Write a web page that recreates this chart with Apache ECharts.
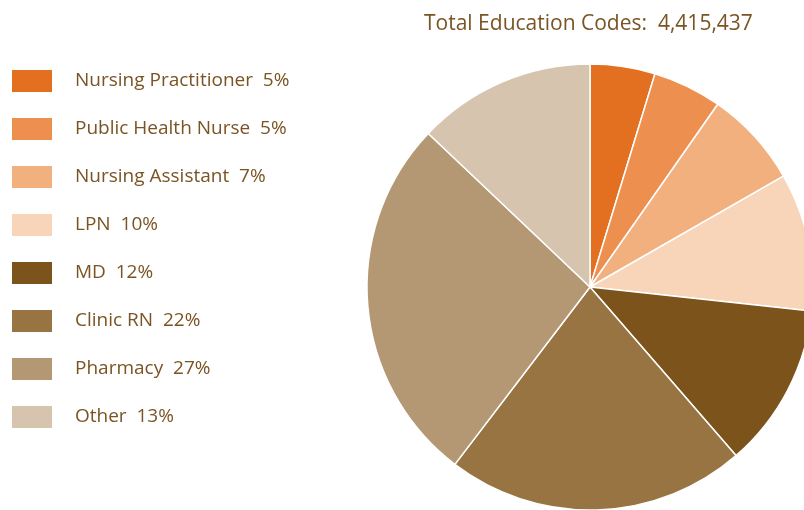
<!DOCTYPE html>
<html>
<head>
<meta charset="utf-8">
<script src="https://cdn.jsdelivr.net/npm/echarts@6/dist/echarts.min.js"></script>
<style>
  html, body { margin: 0; padding: 0; background: #fff; }
  #main { width: 804px; height: 510px; }
</style>
</head>
<body>
<div id="main"></div>
<script>
// categories and the percentages printed in the legend
var categories = ['Nursing Practitioner', 'Public Health Nurse', 'Nursing Assistant', 'LPN', 'MD', 'Clinic RN', 'Pharmacy', 'Other'];
var labelPercents = [5, 5, 7, 10, 12, 22, 27, 13];
// slice shares as measured from the slice angles
var shares = [4.7, 5.0, 7.0, 10.0, 11.9, 21.7, 26.7, 12.9];
var colors = ['#E37020', '#EC8F4F', '#F2B07F', '#F8D5B8', '#7C531A', '#987442', '#B49873', '#D7C4AF'];
var totalCodes = '4,415,437';

var textColor = '#7A5424';
var fontName = 'Open Sans';

var myChart = echarts.init(document.getElementById('main'));
var option = {
    animation: false,
    color: colors,
    title: {
        text: 'Total Education Codes:  ' + totalCodes,
        left: 424,
        top: 14,
        padding: 0,
        textStyle: {
            color: textColor,
            fontFamily: fontName,
            fontWeight: 'normal',
            fontSize: 21
        }
    },
    // legend on the left
    legend: {
        orient: 'vertical',
        left: 10,
        top: 68,
        padding: 0,
        itemWidth: 42,
        itemHeight: 24,
        itemGap: 22,
        icon: 'rect',
        data: categories,
        formatter: function (name) {
            var i = categories.indexOf(name);
            return name + '  ' + labelPercents[i] + '%';
        },
        textStyle: {
            color: textColor,
            fontFamily: fontName,
            fontSize: 19,
            lineHeight: 24,
            padding: [0, 0, 0, 17]
        }
    },
    series: [{
        type: 'pie',
        center: [590, 287],
        radius: 223,
        startAngle: 90,
        clockwise: true,
        label: { show: false },
        labelLine: { show: false },
        emphasis: { disabled: true },
        itemStyle: {
            borderColor: '#ffffff',
            borderWidth: 1.5
        },
        data: (function () {
            var d = [];
            categories.forEach(function (c, i) {
                d.push({ name: c, value: shares[i] });
            });
            return d;
        })()
    }]
};
myChart.setOption(option);
</script>
</body>
</html>
